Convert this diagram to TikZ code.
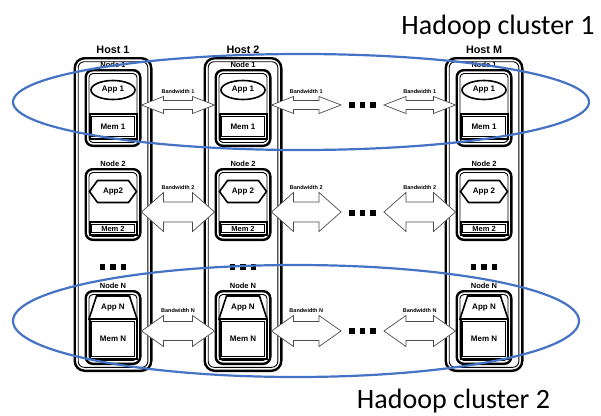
\documentclass[tikz,border=0pt]{standalone}
\usepackage{fontspec}
\setmainfont{Liberation Sans}
\newfontfamily\clusterfont{Carlito}
\usepackage{tikz}
\usetikzlibrary{shapes.geometric,calc}

\definecolor{clusterblue}{RGB}{68,114,196}
\newcommand{\dotrow}{\rule{5.5pt}{5.5pt}\hspace{5pt}\rule{5.5pt}{5.5pt}\hspace{5pt}\rule{5.5pt}{5.5pt}}
% block arrow: from, to, y, half shaft, half head, label name, label text
\newcommand{\bwarrow}[7]{%
  \coordinate (bwa) at (#1 |- 0,#3);
  \coordinate (bwb) at (#2 |- 0,#3);
  \draw[bwline] (bwa) -- ($(bwa)+(22,-#5)$) -- ($(bwa)+(22,-#4)$) -- ($(bwb)+(-22,-#4)$)
    -- ($(bwb)+(-22,-#5)$) -- (bwb) -- ($(bwb)+(-22,#5)$) -- ($(bwb)+(-22,#4)$)
    -- ($(bwa)+(22,#4)$) -- ($(bwa)+(22,#5)$) -- cycle;
  \node[bwlbl] (#6) at ($(bwa)!0.5!(bwb)+(0,-#5-4.5)$) {#7};
}

\tikzset{
  inline/.style n args={3}{path picture={\draw[line width=#1, rounded corners=#3]
    ([shift={(#2,-#2)}]path picture bounding box.north west) rectangle
    ([shift={(-#2,#2)}]path picture bounding box.south east);}},
  hostbox/.style={draw, line width=2.4pt, rounded corners=10pt, minimum width=76.6pt, inner sep=0pt,
    inline={0.9pt}{3.5pt}{6pt}},
  nodebox/.style={draw, line width=2.4pt, rounded corners=7pt, minimum width=54.6pt, inner sep=0pt,
    inline={0.9pt}{3.3pt}{4pt}},
  membox/.style={draw, line width=2pt, minimum width=47pt, inner sep=0pt,
    inline={0.8pt}{2.3pt}{0pt}, font=\bfseries\fontsize{8}{9}\selectfont},
  appell/.style={ellipse, draw, line width=1.6pt, minimum width=44pt, minimum height=19pt, inner sep=0pt, font=\bfseries\fontsize{8}{9}\selectfont},
  apptxt/.style={inner sep=0pt, font=\bfseries\fontsize{8}{9}\selectfont},
  applines/.style={line width=1.6pt, line join=miter},
  hostlbl/.style={inner sep=1pt, label distance=2pt, font=\bfseries\fontsize{10.8}{12}\selectfont},
  nodelbl/.style={inner sep=1pt, label distance=0.5pt, font=\bfseries\fontsize{7.5}{8}\selectfont},
  bwlbl/.style={inner sep=0pt, font=\bfseries\fontsize{5.5}{6}\selectfont},
  bwline/.style={draw=black!70, line width=0.7pt, fill=white, line join=miter},
  dots/.style={inner sep=0pt, inner xsep=8pt},
  cluster/.style={draw=clusterblue, line width=2.2pt},
  clusterlbl/.style={inner sep=0pt, font=\clusterfont\fontsize{28}{30}\selectfont}
}

\begin{document}
\begin{tikzpicture}[x=1pt,y=-1pt]
\useasboundingbox (0,0) rectangle (601,415);

% hosts
\foreach \cx/\hn/\hl/\atwo in {113/1/1/App2, 243/2/2/App 2, 484/m/M/App 2} {
  \node[hostbox, minimum height=312.6pt, label={[hostlbl]above:Host \hl}] (h\hn) at (\cx,214.5) {};
  % node 1
  \node[nodebox, minimum height=75.6pt, label={[nodelbl]above:Node 1}] (h\hn-n1) at (\cx,108) {};
  \node[appell] (h\hn-a1) at (\cx,90) {App 1};
  \node[membox, minimum height=25pt] (h\hn-m1) at (\cx,126.5) {Mem 1};
  % node 2
  \node[nodebox, minimum height=70.6pt, label={[nodelbl]above:Node 2}] (h\hn-n2) at (\cx,204.5) {};
  \draw[applines] (\cx-23.5,191.5) -- (\cx-15.5,180.5) -- (\cx+15.5,180.5) -- (\cx+23.5,191.5)
    -- (\cx+15.5,202.5) -- (\cx-15.5,202.5) -- cycle;
  \node[apptxt] (h\hn-a2) at (\cx,191.5) {\atwo};
  \node[membox, minimum height=12.5pt, font=\bfseries\fontsize{7.5}{8}\selectfont] (h\hn-m2) at (\cx,228.5) {Mem 2};
  \node[inner sep=0pt] (h\hn-dots) at (\cx,267) {\dotrow};
  % node N
  \node[nodebox, minimum height=72.6pt, label={[nodelbl]above:Node N}] (h\hn-nn) at (\cx,327.5) {};
  \draw[applines] (\cx-16.5,296) -- (\cx+16.5,296) -- (\cx+24,319) -- (\cx-24,319) -- cycle;
  \node[apptxt] (h\hn-an) at (\cx,308) {App N};
  \node[membox, minimum height=40pt] (h\hn-mn) at (\cx,339) {Mem N};
}

% dots between hosts
\node[dots] (d1) at (362.5,105) {\dotrow};
\node[dots] (d2) at (362.5,213) {\dotrow};
\node[dots] (dn) at (362.5,331) {\dotrow};

% bandwidth arrows
\bwarrow{h1-n1.east}{h2-n1.west}{105}{4.5}{8.5}{bw11}{Bandwidth 1}
\bwarrow{h2-n1.east}{d1.west}{105}{4.5}{8.5}{bw12}{Bandwidth 1}
\bwarrow{d1.east}{hm-n1.west}{105}{4.5}{8.5}{bw13}{Bandwidth 1}
\bwarrow{h1-n2.east}{h2-n2.west}{212}{10}{19.5}{bw21}{Bandwidth 2}
\bwarrow{h2-n2.east}{d2.west}{212}{10}{19.5}{bw22}{Bandwidth 2}
\bwarrow{d2.east}{hm-n2.west}{212}{10}{19.5}{bw23}{Bandwidth 2}
\bwarrow{h1-nn.east}{h2-nn.west}{331}{9.5}{15.5}{bwn1}{Bandwidth N}
\bwarrow{h2-nn.east}{dn.west}{331}{9.5}{15.5}{bwn2}{Bandwidth N}
\bwarrow{dn.east}{hm-nn.west}{331}{9.5}{15.5}{bwn3}{Bandwidth N}

% clusters
\draw[cluster] (301,102) ellipse (288 and 48);
\draw[cluster] (296,321) ellipse (283 and 56);
\node[clusterlbl] (c1) at (498,27) {Hadoop cluster 1};
\node[clusterlbl] (c2) at (453.5,401) {Hadoop cluster 2};
\end{tikzpicture}
\end{document}
